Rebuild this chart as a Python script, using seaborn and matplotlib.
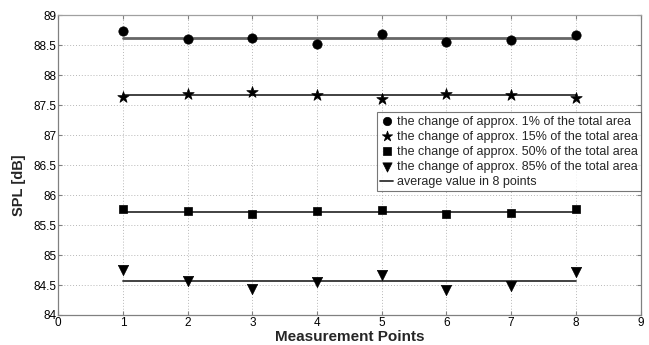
import numpy as np
import pandas as pd
import matplotlib
matplotlib.use("Agg")
import matplotlib.pyplot as plt
import seaborn as sns

points = [1, 2, 3, 4, 5, 6, 7, 8]
spl_1pct = [88.74, 88.605, 88.615, 88.517, 88.69, 88.55, 88.59, 88.67]
spl_15pct = [87.633, 87.693, 87.72, 87.67, 87.60, 87.69, 87.677, 87.62]
spl_50pct = [85.772, 85.727, 85.683, 85.727, 85.75, 85.683, 85.70, 85.76]
spl_85pct = [84.755, 84.56, 84.43, 84.555, 84.66, 84.42, 84.49, 84.71]

labels = [
    "the change of approx. 1% of the total area",
    "the change of approx. 15% of the total area",
    "the change of approx. 50% of the total area",
    "the change of approx. 85% of the total area",
]
markers = ["o", "*", "s", "v"]
sizes = [45, 75, 38, 55]
series = [spl_1pct, spl_15pct, spl_50pct, spl_85pct]

sns.set_theme(style="white")
plt.rcParams["font.family"] = ["Liberation Sans", "DejaVu Sans"]

fig = plt.figure(figsize=(6.49, 3.45), dpi=100)
ax = fig.add_axes([0.0898, 0.087, 0.8972, 0.8687])

for vals, lab, mk, sz in zip(series, labels, markers, sizes):
    df = pd.DataFrame({"point": points, "spl": vals})
    sns.scatterplot(data=df, x="point", y="spl", marker=mk, s=sz, color="black",
                    edgecolor="black", linewidth=0.5, ax=ax, label=lab, zorder=3)

# horizontal line at the mean of each series, spanning points 1..8
for i, vals in enumerate(series):
    mean = np.mean(vals)
    avg = pd.DataFrame({"point": [points[0], points[-1]], "spl": [mean, mean]})
    sns.lineplot(data=avg, x="point", y="spl", color="#666666" if i == 0 else "#333333",
                 linewidth=2.0 if i == 0 else 1.3, ax=ax,
                 label="average value in 8 points" if i == 3 else None, zorder=2)

ax.set_xlim(0, 9)
ax.set_ylim(84, 89)
ax.set_xticks(range(0, 10))
yt = np.arange(84, 89.01, 0.5)
ax.set_yticks(yt)
ax.set_yticklabels([f"{v:g}" for v in yt])
ax.grid(True, linestyle=(0, (1, 2)), color="#b8b8b8", linewidth=0.7)
ax.tick_params(direction="in", length=3, width=0.8, labelsize=8.5, labelcolor="black",
               color="#808080", top=True, right=True, bottom=True, left=True, pad=1.5)
for s in ax.spines.values():
    s.set_color("#808080")
    s.set_linewidth(0.9)
ax.spines["top"].set_color("#a0a0a0")

ax.set_xlabel("Measurement Points", fontsize=11, fontweight="bold")
ax.xaxis.set_label_coords(0.5, -0.073)
ax.xaxis.label.set_va("center")
ax.set_ylabel("SPL [dB]", fontsize=10.5, fontweight="bold")
ax.yaxis.set_label_coords(-0.067, 0.433)
ax.yaxis.label.set_va("center")

handles, labs = ax.get_legend_handles_labels()
leg = ax.legend(handles, labs, loc="upper right", bbox_to_anchor=(1.0, 0.676),
                fontsize=9, frameon=True, fancybox=False, edgecolor="#555555",
                handlelength=1.0, handletextpad=0.3, borderpad=0.25,
                labelspacing=0.25, borderaxespad=0.0, markerscale=0.9)
leg.get_frame().set_linewidth(0.8)

fig.savefig("out.png", dpi=100)
